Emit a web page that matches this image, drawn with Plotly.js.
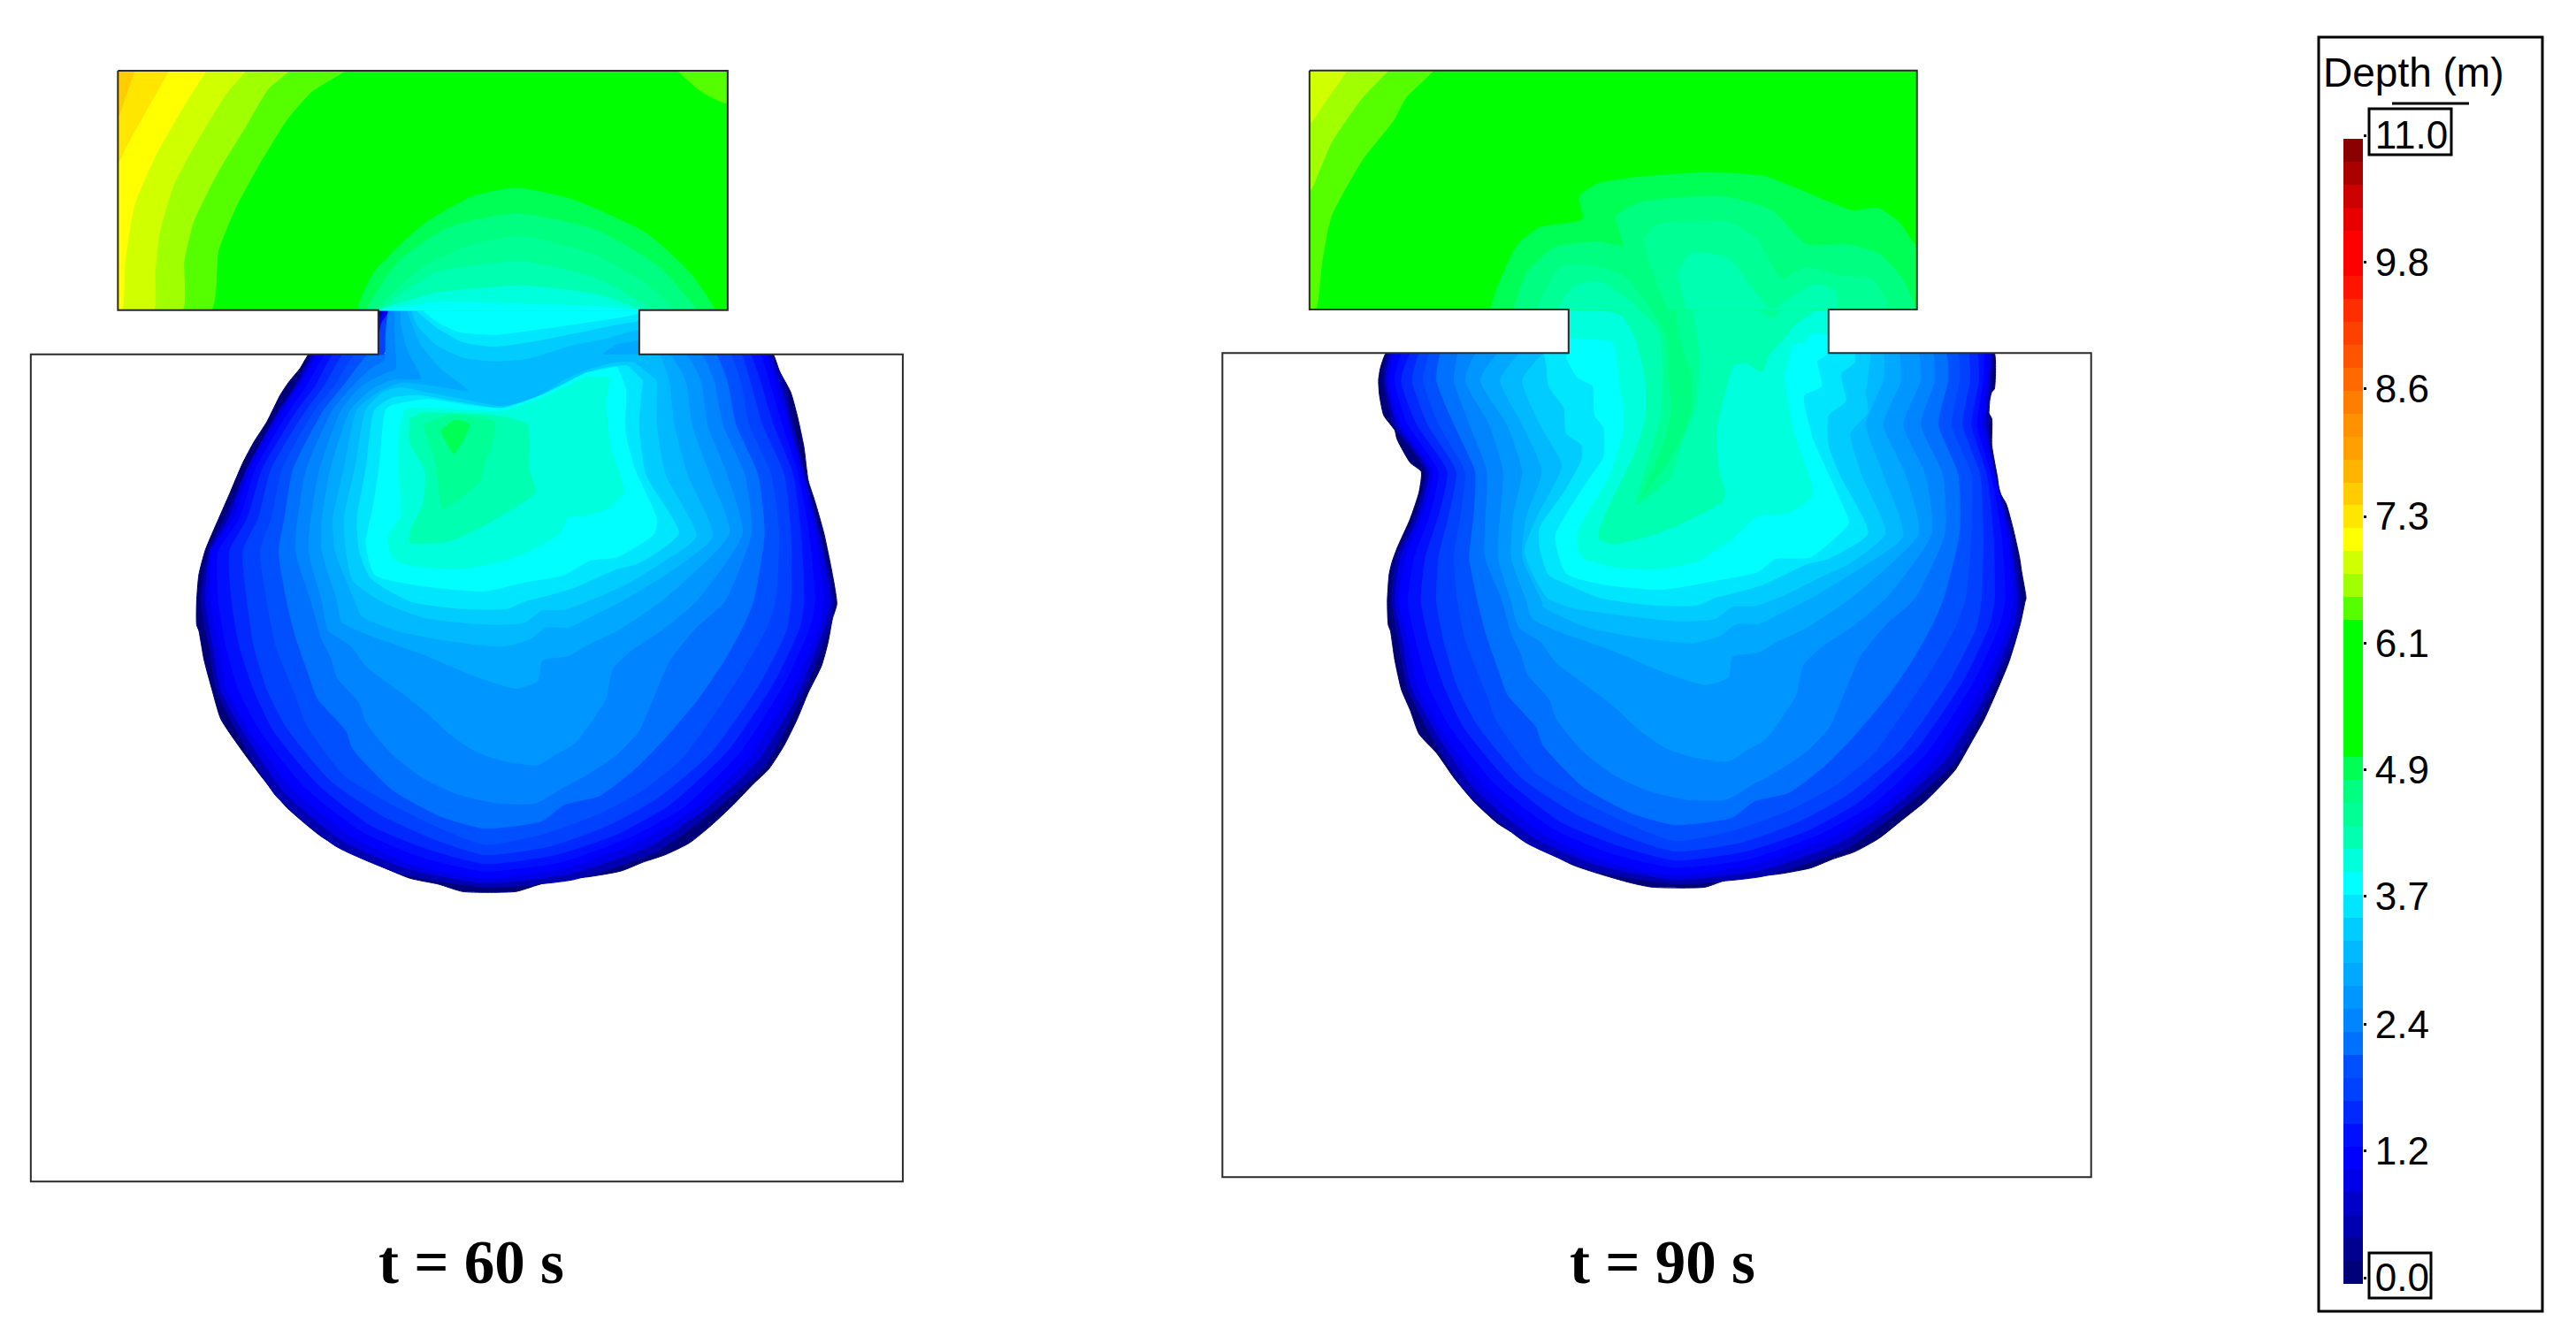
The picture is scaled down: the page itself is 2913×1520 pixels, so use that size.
<!DOCTYPE html>
<html><head><meta charset="utf-8">
<script src="https://cdn.plot.ly/plotly-3.0.1.min.js"></script>
<style>html,body{margin:0;padding:0;background:#fff}</style></head>
<body><div id="chart" style="width:2913px;height:1520px"></div>
<script>
// Legend bands, bottom (shallow) to top (deep): each band spans 0.22 m
const bandColors = ['#000078','#000090','#0000b0','#0000c8','#0000e6','#0000ff','#0010ff','#0028ff','#0040ff','#0050ff','#0070ff','#0084ff','#0096ff','#00a8ff','#00b9ff','#00ccff','#00e6ff','#00ffff','#00ffdd','#00ffb0','#00ff95','#00ff80','#00ff55','#00ff00','#00ff00','#00ff00','#00ff00','#00ff00','#00ff00','#55ff00','#a0ff00','#d0ff00','#ffff00','#ffe600','#ffcc00','#ffb400','#ffa000','#ff9100','#ff7d00','#ff6900','#ff5500','#ff4100','#ff2d00','#ff1400','#ff0000','#ff0000','#e80000','#cd0000','#aa0000','#8b0000'];
const depthTicks = [0,1.22,2.44,3.67,4.89,6.11,7.33,8.56,9.78,11];
const depthTickText = ['0.0','1.2','2.4','3.7','4.9','6.1','7.3','8.6','9.8','11.0'];
const panelTitles = ['t = 60 s','t = 90 s'];

// ---- t = 60 s : iso-depth contours (x,y pairs, model units) ----
const t60_source = [-134,-750, 1252,-750, 1252,62, -134,62];
const t60_s30 = [383,-751, 305,-678, 249,-582, 193,-448, 136,-294, 94,-140, 77,62, -134,62, -134,-750];
const t60_s31 = [256,-751, 207,-688, 157,-563, 94,-409, 37,-236, 16,-102, 12,62, -134,62, -134,-750];
const t60_s32 = [157,-751, 115,-678, 66,-563, -5,-371, -40,-198, -50,-64, -53,62, -134,62, -134,-750];
const t60_s33 = [66,-751, 23,-649, -47,-467, -97,-294, -118,-102, -125,62, -134,62, -134,-750];
const t60_s34 = [-19,-751, -68,-620, -118,-486, -134,-438, -134,-750];
const t60_s35 = [-97,-751, -118,-659, -134,-592, -134,-750];
const t60_s30r = [1138,-751, 1194,-678, 1252,-640, 1252,-751];
const t60_d23 = [411,62, 447,-64, 559,-227, 672,-323, 771,-352, 898,-313, 1067,-198, 1166,-64, 1223,62];
const t60_d22 = [432,62, 503,-102, 616,-217, 771,-265, 955,-208, 1096,-83, 1180,62];
const t60_d21 = [454,62, 559,-83, 672,-160, 785,-188, 955,-121, 1067,-25, 1131,62];
const t60_d20 = [461,62, 588,-64, 785,-102, 955,-44, 1082,62];
const t60_d19 = [461,62, 588,5, 785,-20, 955,10, 1055,62];
const t60_d18 = [465,62, 600,35, 785,42, 955,50, 1050,62];
const t60_wedge09 = [458,62, 500,62, 470,212, 458,212];
const t60_wedge06 = [458,62, 482,62, 464,105, 458,145];
const t60_wedge03 = [458,62, 470,62, 458,92];
const t60_k01 = [300,212, 280,260, 255,305, 235,350, 205,440, 175,510, 150,580, 120,685, 95,770, 65,875, 50,960, 45,1050, 45,1130, 50,1150, 62,1250, 80,1350, 100,1450, 145,1550, 195,1650, 250,1750, 330,1850, 395,1900, 465,1950, 530,1990, 595,2010, 650,2035, 770,2035, 815,2015, 860,1995, 935,1985, 1010,1965, 1060,1935, 1110,1910, 1165,1870, 1215,1810, 1265,1740, 1310,1670, 1345,1620, 1380,1540, 1410,1450, 1435,1360, 1465,1270, 1480,1190, 1490,1110, 1500,1060, 1495,1000, 1485,920, 1470,815, 1450,710, 1435,640, 1425,525, 1410,420, 1395,340, 1370,270, 1355,212];
const t60_k03 = [308,212, 268,320, 232,400, 160,600, 108,770, 72,880, 55,1050, 72,1200, 90,1350, 135,1490, 225,1710, 360,1880, 510,1975, 700,2020, 900,1995, 1090,1900, 1220,1760, 1335,1610, 1425,1355, 1480,1150, 1493,1050, 1462,820, 1428,620, 1400,450, 1378,300, 1348,212];
const t60_k05 = [315,212, 272,320, 236,400, 160,600, 118,770, 76,880, 65,1050, 82,1200, 100,1350, 150,1490, 245,1700, 380,1865, 520,1955, 700,2005, 890,1975, 1075,1880, 1200,1755, 1320,1590, 1415,1350, 1470,1140, 1485,1050, 1458,820, 1424,620, 1395,450, 1368,300, 1345,212];
const t60_k06 = [322,212, 278,320, 245,400, 168,600, 128,770, 80,880, 78,1050, 95,1200, 115,1350, 165,1490, 265,1690, 400,1850, 530,1940, 700,1990, 880,1955, 1060,1860, 1180,1750, 1300,1580, 1400,1340, 1460,1130, 1470,1050, 1450,820, 1420,620, 1388,450, 1358,300, 1338,212];
const t60_k07 = [338,212, 295,320, 258,400, 180,600, 143,770, 95,880, 95,1050, 112,1200, 140,1350, 190,1490, 290,1680, 420,1830, 550,1915, 700,1965, 870,1935, 1030,1850, 1150,1750, 1275,1570, 1380,1330, 1440,1130, 1450,1050, 1436,820, 1412,620, 1375,450, 1345,300, 1325,212];
const t60_k08 = [355,212, 315,320, 275,400, 195,600, 160,770, 120,880, 125,1050, 142,1200, 175,1350, 220,1490, 320,1670, 440,1810, 570,1890, 700,1940, 860,1910, 1000,1840, 1120,1740, 1250,1560, 1355,1330, 1415,1140, 1425,1050, 1418,820, 1400,620, 1355,450, 1325,300, 1303,212];
const t60_k09 = [378,212, 335,320, 295,400, 215,600, 185,770, 150,880, 160,1050, 175,1200, 205,1350, 250,1480, 350,1660, 470,1780, 590,1860, 700,1910, 850,1880, 980,1810, 1090,1720, 1210,1570, 1320,1340, 1385,1150, 1395,1050, 1395,820, 1380,620, 1330,450, 1302,300, 1282,212];
const t60_k10 = [405,212, 358,320, 315,400, 240,600, 215,770, 190,880, 205,1050, 225,1200, 275,1390, 295,1470, 380,1640, 490,1740, 600,1820, 700,1875, 830,1840, 960,1770, 1060,1690, 1150,1580, 1280,1300, 1340,1140, 1360,1050, 1368,820, 1350,620, 1300,450, 1280,300, 1258,212];
const t60_k11 = [435,212, 378,320, 335,400, 265,600, 245,770, 232,880, 250,1050, 270,1170, 300,1300, 320,1380, 385,1490, 400,1550, 490,1690, 600,1780, 700,1820, 830,1795, 880,1740, 960,1710, 1040,1620, 1100,1530, 1180,1390, 1240,1260, 1285,1140, 1310,1050, 1335,820, 1320,620, 1270,450, 1250,300, 1225,212];
const t60_k12 = [482,62, 475,150, 472,232, 440,262, 400,320, 355,400, 295,600, 275,770, 270,880, 305,1050, 330,1180, 350,1240, 365,1310, 415,1395, 430,1460, 490,1570, 560,1650, 640,1705, 730,1735, 815,1735, 880,1680, 930,1640, 1000,1570, 1050,1490, 1085,1370, 1120,1250, 1180,1140, 1245,1050, 1305,820, 1290,620, 1240,450, 1220,300, 1190,212, 1051,212, 1051,62];
const t60_k13 = [497,62, 495,150, 498,262, 470,280, 420,320, 375,400, 325,600, 305,770, 300,880, 330,1050, 345,1150, 395,1200, 430,1270, 520,1370, 570,1430, 620,1500, 680,1560, 740,1590, 820,1605, 860,1570, 905,1530, 950,1440, 975,1380, 990,1280, 1030,1220, 1100,1150, 1180,1050, 1285,820, 1250,620, 1205,450, 1190,300, 1155,212, 1051,212, 1051,62];
const t60_k14 = [510,62, 510,110, 525,200, 555,295, 490,300, 445,330, 395,400, 350,600, 330,770, 330,880, 365,1050, 375,1120, 430,1160, 560,1230, 680,1305, 770,1345, 820,1320, 830,1250, 890,1235, 930,1200, 1000,1150, 1100,1050, 1255,820, 1210,620, 1170,450, 1155,300, 1118,212, 1051,212, 1051,62];
const t60_k15 = [525,62, 535,110, 555,180, 600,260, 665,338, 590,322, 510,310, 460,340, 410,400, 380,600, 355,770, 360,880, 405,1050, 420,1100, 500,1150, 600,1180, 740,1203, 800,1180, 840,1138, 890,1138, 950,1095, 1010,1050, 1120,950, 1218,830, 1160,620, 1130,450, 1118,300, 1095,212, 1051,212, 968,212, 1000,178, 1051,160, 1051,62];
const t60_k16 = [1040,240, 1000,240, 940,262, 880,300, 830,350, 790,375, 735,388, 660,368, 560,340, 510,325, 470,340, 430,400, 405,600, 380,770, 385,880, 400,980, 465,1050, 560,1105, 700,1128, 790,1122, 830,1080, 880,1078, 950,1040, 1030,985, 1100,920, 1180,830, 1110,620, 1090,450, 1090,300];
const t60_c16 = [535,62, 545,110, 590,180, 650,222, 720,235, 800,225, 900,180, 970,160, 1040,130, 1051,128, 1051,62];
const t60_k17 = [1025,250, 960,262, 900,298, 850,345, 800,385, 740,398, 640,375, 550,352, 490,360, 450,400, 430,600, 410,770, 415,880, 440,970, 530,1050, 650,1075, 750,1075, 790,1050, 830,1035, 900,1005, 1000,940, 1050,920, 1140,820, 1065,620, 1050,450, 1058,300];
const t60_c17 = [545,62, 590,120, 650,170, 720,185, 820,165, 1000,110, 1051,95, 1051,62];
const t60_k18 = [1000,255, 1020,330, 1018,470, 1040,600, 1090,770, 1085,820, 1000,900, 940,910, 880,960, 790,985, 700,1015, 570,1000, 450,960, 430,850, 445,740, 460,600, 475,400, 490,385, 570,365, 660,385, 740,395, 830,350, 930,275];
const t60_c18 = [560,62, 590,100, 640,135, 720,145, 830,125, 1030,80, 1051,70, 1051,62];
const t60_k19 = [985,290, 975,370, 985,520, 1015,680, 985,730, 930,760, 890,765, 870,820, 800,880, 750,910, 640,940, 520,925, 490,900, 480,830, 510,760, 505,620, 505,500, 520,400, 570,395, 740,405, 830,360, 930,290];
const t60_k20 = [530,430, 530,510, 565,610, 560,720, 530,815, 530,850, 620,845, 700,790, 800,700, 815,680, 800,600, 795,450, 720,420, 560,410];
const t60_k21 = [560,450, 590,590, 595,650, 605,735, 690,640, 695,600, 720,490, 720,440, 630,415];
const t60_k23 = [600,470, 630,550, 655,490, 665,450, 630,435];
const t60_maskLeft = [-340,62, 458,62, 458,212, -340,212];
const t60_maskRight = [1051,62, 1670,62, 1670,212, 1051,212];
const t60_maskTop = [-402,-990, 2211,-990, 2211,62, 1252,62, 1252,-750, -134,-750, -134,62, -402,62];
const t60_outline = [-134,-750, 1252,-750, 1252,62, 1051,62, 1051,212, 1650,212, 1650,3019, -332,3019, -332,212, 458,212, 458,62, -134,62, -134,-750];

const t60_tank = [
 [1,t60_k01],[3,t60_k03],[5,t60_k05],[6,t60_k06],[7,t60_k07],[8,t60_k08],[9,t60_k09],[10,t60_k10],[11,t60_k11],
 [9,t60_wedge09],[6,t60_wedge06],[3,t60_wedge03],
 [12,t60_k12],[13,t60_k13],[14,t60_k14],[15,t60_k15],[16,t60_k16],[16,t60_c16],[17,t60_k17],[17,t60_c17],[18,t60_k18],[18,t60_c18],
 [19,t60_k19],[20,t60_k20],[21,t60_k21],[23,t60_k23]
];
const t60_inlet = [
 [24,t60_source],[30,t60_s30],[31,t60_s31],[32,t60_s32],[33,t60_s33],[34,t60_s34],[35,t60_s35],[30,t60_s30r],
 [23,t60_d23],[22,t60_d22],[21,t60_d21],[20,t60_d20],[19,t60_d19],[18,t60_d18]
];

// ---- t = 90 s ----
const t90_source = [-139,-751, 1242,-751, 1242,60, -139,60];
const t90_s30 = [143,-751, 80,-659, 52,-582, -19,-448, -90,-256, -111,-102, -125,60, -139,60, -139,-751];
const t90_s31 = [40,-751, -19,-659, -90,-505, -139,-342, -139,-751];
const t90_s32 = [-54,-751, -97,-659, -139,-572, -139,-751];
const t90_d23 = [274,60, 291,-25, 334,-160, 383,-217, 482,-246, 475,-323, 517,-367, 616,-390, 771,-405, 898,-390, 1011,-323, 1096,-275, 1152,-284, 1201,-236, 1237,-160, 1242,-160, 1242,60];
const t90_d22 = [327,60, 355,-64, 418,-150, 517,-169, 574,-156, 559,-256, 616,-304, 799,-323, 912,-275, 990,-160, 1082,-160, 1152,-131, 1209,-44, 1237,60];
const t90_d21a = [376,60, 432,-83, 489,-92, 574,-54, 637,60];
const t90_d21b = [676,60, 623,-178, 651,-227, 813,-236, 877,-179, 933,-44, 990,-83, 1067,-54, 1138,-44, 1173,32, 1173,60];
const t90_d20a = [425,60, 461,-16, 517,-35, 588,30, 610,60];
const t90_d20b = [720,60, 700,-64, 729,-131, 813,-112, 870,-6, 910,60, 962,13, 1011,-25, 1053,-6, 1060,60];
const t90_k01 = [35,208, 22,260, 18,300, 20,350, 30,420, 55,470, 60,500, 90,580, 115,610, 110,680, 90,770, 60,870, 48,920, 42,960, 38,1050, 40,1130, 45,1150, 55,1250, 70,1350, 90,1420, 110,1500, 150,1565, 190,1650, 235,1730, 290,1805, 340,1850, 400,1900, 460,1945, 520,1975, 590,2005, 640,2020, 760,2020, 810,1995, 930,1975, 1000,1955, 1050,1925, 1100,1900, 1155,1855, 1210,1790, 1260,1730, 1300,1670, 1330,1620, 1365,1530, 1395,1450, 1425,1350, 1450,1260, 1465,1190, 1478,1120, 1488,1050, 1490,1040, 1480,950, 1475,900, 1460,800, 1445,720, 1430,680, 1425,630, 1412,520, 1412,430, 1403,405, 1412,340, 1418,330, 1418,208];
const t90_k03 = [42,208, 30,300, 52,450, 125,610, 102,760, 58,900, 48,1050, 64,1188, 82,1338, 127,1478, 217,1698, 352,1868, 502,1963, 692,2008, 892,1983, 1082,1888, 1212,1748, 1327,1598, 1417,1343, 1472,1138, 1478,1050, 1458,820, 1420,620, 1405,450, 1410,300, 1412,208];
const t90_k05 = [48,208, 35,300, 60,450, 132,610, 110,760, 68,900, 56,1050, 74,1188, 92,1338, 142,1478, 237,1688, 372,1853, 512,1943, 692,1993, 882,1963, 1067,1868, 1192,1743, 1312,1578, 1407,1338, 1462,1128, 1470,1050, 1452,820, 1418,620, 1398,450, 1405,300, 1408,208];
const t90_k06 = [55,208, 42,300, 70,450, 142,610, 118,760, 80,900, 65,1050, 87,1188, 107,1338, 157,1478, 257,1678, 392,1838, 522,1928, 692,1978, 872,1943, 1052,1848, 1172,1738, 1292,1568, 1392,1328, 1452,1118, 1460,1040, 1446,820, 1417,620, 1390,450, 1400,300, 1400,208];
const t90_k07 = [72,208, 55,300, 85,450, 155,610, 135,760, 100,900, 85,1050, 104,1188, 132,1338, 182,1478, 282,1668, 412,1818, 542,1903, 692,1953, 862,1923, 1022,1838, 1142,1738, 1267,1558, 1372,1318, 1432,1118, 1442,1040, 1433,820, 1410,620, 1378,450, 1392,300, 1392,208];
const t90_k08 = [92,208, 70,300, 105,450, 175,610, 155,760, 125,900, 115,1050, 134,1188, 167,1338, 212,1478, 312,1658, 432,1798, 562,1878, 692,1928, 852,1898, 992,1828, 1112,1728, 1242,1548, 1347,1318, 1407,1128, 1418,1040, 1415,820, 1400,620, 1365,450, 1382,300, 1378,208];
const t90_k09 = [112,208, 95,300, 130,450, 195,610, 178,760, 155,900, 150,1050, 167,1188, 197,1338, 242,1468, 342,1648, 462,1768, 582,1848, 692,1898, 842,1868, 972,1798, 1082,1708, 1202,1558, 1312,1328, 1377,1138, 1388,1040, 1392,820, 1385,620, 1345,450, 1362,300, 1358,208];
const t90_k10 = [135,208, 120,300, 155,450, 215,610, 205,760, 190,900, 197,1038, 217,1188, 267,1378, 287,1458, 372,1628, 482,1728, 592,1808, 692,1863, 822,1828, 952,1758, 1052,1678, 1142,1568, 1272,1288, 1332,1128, 1352,1040, 1365,820, 1365,620, 1320,450, 1338,300, 1335,208];
const t90_k11 = [160,208, 150,300, 190,450, 238,610, 235,760, 225,900, 242,1038, 262,1158, 292,1288, 312,1368, 377,1478, 392,1538, 482,1678, 592,1768, 692,1808, 822,1783, 872,1728, 952,1698, 1032,1608, 1092,1518, 1172,1378, 1232,1248, 1277,1128, 1302,1040, 1338,820, 1335,620, 1290,450, 1312,300, 1308,208];
const t90_k12 = [200,208, 190,300, 225,450, 265,610, 262,760, 260,900, 297,1038, 322,1168, 342,1228, 357,1298, 407,1383, 422,1448, 482,1558, 552,1638, 632,1693, 722,1723, 807,1723, 872,1668, 922,1628, 992,1558, 1042,1478, 1077,1358, 1112,1238, 1172,1128, 1237,1040, 1305,820, 1300,620, 1250,450, 1282,300, 1278,208];
const t90_k13 = [240,208, 215,300, 270,450, 302,610, 295,760, 290,900, 320,1050, 337,1138, 387,1188, 422,1258, 512,1358, 562,1418, 612,1488, 672,1548, 732,1578, 812,1593, 852,1558, 897,1518, 942,1428, 967,1368, 982,1268, 1022,1208, 1092,1138, 1172,1038, 1275,820, 1260,620, 1210,450, 1250,300, 1245,208];
const t90_k14 = [290,208, 250,300, 310,450, 345,610, 325,760, 320,900, 355,1050, 367,1108, 422,1148, 552,1218, 672,1293, 762,1333, 812,1308, 822,1238, 882,1223, 922,1188, 992,1138, 1092,1038, 1245,820, 1215,620, 1165,450, 1205,300, 1200,208];
const t90_k15 = [340,208, 295,300, 345,450, 390,610, 355,760, 345,900, 390,1050, 392,1068, 492,1138, 592,1168, 732,1191, 792,1168, 832,1126, 882,1126, 942,1083, 1002,1038, 1110,940, 1210,830, 1165,620, 1125,450, 1165,300, 1165,208];
const t90_k16 = [395,208, 345,300, 385,450, 435,590, 380,760, 350,880, 370,960, 402,1038, 462,1073, 552,1093, 692,1116, 782,1110, 822,1068, 872,1066, 942,1028, 1022,968, 1090,920, 1170,820, 1115,620, 1090,480, 1130,410, 1125,350, 1135,208];
const t90_k17 = [395,208, 400,250, 405,320, 440,395, 445,480, 480,520, 480,570, 440,680, 385,800, 385,870, 405,960, 442,988, 522,1038, 642,1063, 742,1063, 782,1038, 822,1023, 892,993, 992,923, 1040,905, 1130,820, 1065,620, 1040,520, 1040,420, 1080,370, 1070,300, 1070,275, 1100,240, 1100,208];
const t90_k18 = [450,60, 450,208, 445,220, 470,290, 505,320, 510,420, 530,460, 530,560, 490,650, 420,830, 445,955, 520,990, 660,1010, 800,975, 880,950, 920,905, 1000,900, 1085,790, 1085,770, 1005,500, 985,380, 985,350, 1025,320, 1015,235, 1041,208, 1041,60];
const t90_k19 = [450,60, 450,150, 550,170, 565,300, 575,400, 575,470, 545,620, 470,820, 480,900, 560,935, 650,940, 740,915, 820,840, 880,760, 950,750, 1000,700, 1005,670, 960,470, 940,280, 945,260, 960,180, 985,170, 1005,140, 1041,140, 1041,60];
const t90_k20 = [530,60, 570,80, 600,150, 625,300, 625,430, 600,550, 545,720, 520,810, 520,840, 550,855, 640,825, 700,790, 800,710, 805,680, 790,600, 785,480, 805,340, 825,250, 850,240, 890,270, 905,215, 935,165, 965,110, 1000,75, 1010,60];
const t90_k21 = [610,60, 655,130, 665,300, 660,430, 635,560, 605,720, 680,630, 695,560, 740,380, 745,200, 730,60];
const t90_k21b = [880,60, 912,85, 935,60];
const t90_k22 = [640,60, 672,150, 678,300, 685,400, 665,520, 615,700, 690,545, 725,420, 730,300, 700,150, 690,60];
const t90_maskLeft = [-345,60, 450,60, 450,208, -345,208];
const t90_maskRight = [1041,60, 1660,60, 1660,208, 1041,208];
const t90_maskTop = [-402,-990, 2111,-990, 2111,60, 1242,60, 1242,-751, -139,-751, -139,60, -402,60];
const t90_outline = [-139,-751, 1242,-751, 1242,60, 1041,60, 1041,208, 1638,208, 1638,3004, -337,3004, -337,208, 450,208, 450,60, -139,60, -139,-751];

const t90_tank = [
 [1,t90_k01],[3,t90_k03],[5,t90_k05],[6,t90_k06],[7,t90_k07],[8,t90_k08],[9,t90_k09],[10,t90_k10],[11,t90_k11],[12,t90_k12],[13,t90_k13],[14,t90_k14],[15,t90_k15],[16,t90_k16],[17,t90_k17],
 [18,t90_k18],[19,t90_k19],[20,t90_k20],[21,t90_k21],[21,t90_k21b],[22,t90_k22]
];
const t90_inlet = [
 [24,t90_source],[30,t90_s30],[31,t90_s31],[32,t90_s32],
 [23,t90_d23],[22,t90_d22],[21,t90_d21a],[21,t90_d21b],[20,t90_d20a],[20,t90_d20b]
];

// ---- page geometry (pixels of the 2913x1520 page) ----
const W = 2913, H = 1520;
const px = v => v / W, py = v => 1 - v / H;

// split pairs; keeps the closing edge straight by adding collinear guide points next to its ends
function xy(flat){
  const x=[],y=[]; for(let i=0;i<flat.length;i+=2){x.push(flat[i]);y.push(flat[i+1]);}
  const n=x.length, ax=x[n-1], ay=y[n-1], bx=x[0], by=y[0];
  [0.01,0.06,0.94,0.99].forEach(t=>{x.push(ax+(bx-ax)*t);y.push(ay+(by-ay)*t);});
  x.push(bx);y.push(by); return {x,y};
}
function band(flat,color,xa,ya,linear){ const p=xy(flat); return {type:'scatter',mode:'lines',x:p.x,y:p.y,xaxis:xa,yaxis:ya,fill:'toself',fillcolor:color,
  line:{color:color,width:linear?0:1,shape:linear?'linear':'spline',smoothing:0.55},hoverinfo:'skip',showlegend:false}; }
function outline(flat,xa,ya){ const p=xy(flat); return {type:'scatter',mode:'lines',x:p.x,y:p.y,xaxis:xa,yaxis:ya,line:{color:'#2a2a2a',width:2},hoverinfo:'skip',showlegend:false}; }

const traces = [];
t60_tank.forEach(([k,f])=>traces.push(band(f,bandColors[k-1],'x','y',false)));
t60_inlet.forEach(([k,f],i)=>traces.push(band(f,bandColors[k-1],'x','y',i===0)));
[t60_maskLeft,t60_maskRight,t60_maskTop].forEach(f=>traces.push(band(f,'#ffffff','x','y',true)));
traces.push(outline(t60_outline,'x','y'));
t90_tank.forEach(([k,f])=>traces.push(band(f,bandColors[k-1],'x2','y2',false)));
t90_inlet.forEach(([k,f],i)=>traces.push(band(f,bandColors[k-1],'x2','y2',i===0)));
[t90_maskLeft,t90_maskRight,t90_maskTop].forEach(f=>traces.push(band(f,'#ffffff','x2','y2',true)));
traces.push(outline(t90_outline,'x2','y2'));

// legend bar
const scale=[]; bandColors.forEach((c,i)=>{scale.push([i/50,c]);scale.push([(i+1)/50,c]);});
traces.push({type:'heatmap',x:[0.5],y:bandColors.map((c,i)=>(i+0.5)*0.22),z:bandColors.map((c,i)=>[(i+0.5)*0.22]),
  zmin:0,zmax:11,colorscale:scale,showscale:false,xaxis:'x3',yaxis:'y3',hoverinfo:'skip'});
traces.push({type:'scatter',mode:'markers',x:depthTicks.map(()=>0.5),y:depthTicks,marker:{opacity:0},xaxis:'x3',yaxis:'y4',hoverinfo:'skip',showlegend:false});

const hidden = {visible:false,fixedrange:true};
const layout = {
  width:W,height:H,margin:{l:0,r:0,t:0,b:0},paper_bgcolor:'#fff',plot_bgcolor:'rgba(0,0,0,0)',showlegend:false,
  xaxis:{...hidden,domain:[0,1300/W],range:[-402,2211]},
  yaxis:{...hidden,domain:[0,1],range:[3570,-990]},
  xaxis2:{...hidden,domain:[1350/W,2600/W],range:[-402,2111],anchor:'y2'},
  yaxis2:{...hidden,domain:[0,1],range:[3570,-990],anchor:'x2'},
  xaxis3:{...hidden,domain:[px(2650),px(2672)],range:[0,1],anchor:'y3'},
  yaxis3:{...hidden,domain:[py(1452),py(157)],range:[0,11],anchor:'x3'},
  yaxis4:{fixedrange:true,domain:[py(1445),py(153)],range:[0,11],anchor:'x3',side:'right',showgrid:false,zeroline:false,showline:false,
    tickmode:'array',tickvals:depthTicks,ticktext:depthTickText,ticks:'outside',ticklen:3,tickwidth:3,tickcolor:'#000',ticklabelstandoff:1,
    tickfont:{family:'Liberation Sans',size:44,color:'#000'}},
  shapes:[
    {type:'rect',xref:'paper',yref:'paper',x0:px(2622),x1:px(2875),y0:py(1483),y1:py(42),line:{color:'#000',width:3},fillcolor:'rgba(0,0,0,0)'},
    {type:'rect',xref:'paper',yref:'paper',x0:px(2679),x1:px(2772),y0:py(175),y1:py(123),line:{color:'#000',width:3},fillcolor:'rgba(0,0,0,0)'},
    {type:'rect',xref:'paper',yref:'paper',x0:px(2679),x1:px(2749),y0:py(1468),y1:py(1417),line:{color:'#000',width:3},fillcolor:'rgba(0,0,0,0)'},
    {type:'line',xref:'paper',yref:'paper',x0:px(2705),x1:px(2792),y0:py(117),y1:py(117),line:{color:'#000',width:3}}
  ],
  annotations:[
    {xref:'paper',yref:'paper',x:px(2625),y:py(82),xanchor:'left',yanchor:'middle',showarrow:false,text:'Depth (m)',font:{family:'Liberation Sans',size:46,color:'#000'}},
    {xref:'paper',yref:'paper',x:px(533),y:py(1428),xanchor:'center',yanchor:'middle',showarrow:false,text:'<b>'+panelTitles[0]+'</b>',font:{family:'Liberation Serif',size:69,color:'#000'}},
    {xref:'paper',yref:'paper',x:px(1880),y:py(1428),xanchor:'center',yanchor:'middle',showarrow:false,text:'<b>'+panelTitles[1]+'</b>',font:{family:'Liberation Serif',size:69,color:'#000'}}
  ]
};
Plotly.newPlot('chart',traces,layout,{displayModeBar:false,responsive:false});
</script></body></html>
